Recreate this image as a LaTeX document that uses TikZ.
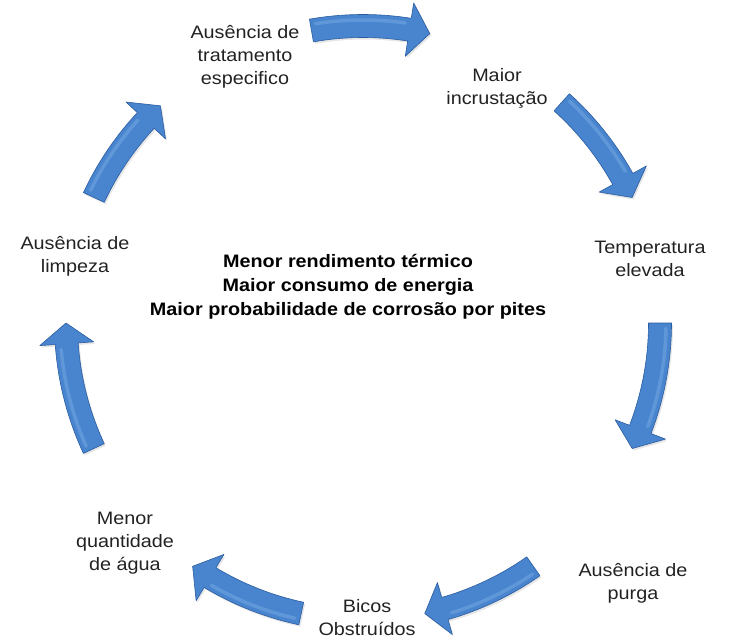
\documentclass[tikz,border=0pt]{standalone}
\usepackage{fontspec}
\setmainfont{Liberation Sans}[FakeStretch=1.1]
\usetikzlibrary{shadows}
\definecolor{arrowblue}{RGB}{72,133,206}
\definecolor{arrowedge}{RGB}{42,92,160}
\definecolor{arrowlight}{RGB}{140,185,235}
\definecolor{labelgray}{RGB}{34,34,34}
\tikzset{
  steplabel/.style={align=center, text=labelgray, font=\fontsize{18}{23}\selectfont, inner sep=2pt},
  centertext/.style={align=center, font=\bfseries\fontsize{18}{24}\selectfont},
  cyclearrow/.style={fill=arrowblue, draw=arrowedge, line width=0.6pt, line join=round,
    drop shadow={shadow xshift=1.5pt, shadow yshift=-2pt, opacity=0.2}},
  gloss/.style={draw=arrowlight, line width=3.5pt, opacity=0.35, line cap=round}
}
\begin{document}
\begin{tikzpicture}[x=1pt, y=1pt]
\useasboundingbox (0,0) rectangle (733,641);
% steps of the cycle
\node[steplabel] (tratamento) at (245,584) {Ausência de\\tratamento\\especifico};
\node[steplabel] (incrustacao) at (497,553) {Maior\\incrustação};
\node[steplabel] (temperatura) at (650,382) {Temperatura\\elevada};
\node[steplabel] (purga) at (633,58) {Ausência de\\purga};
\node[steplabel] (bicos) at (367,23) {Bicos\\Obstruídos};
\node[steplabel] (agua) at (125,98) {Menor\\quantidade\\de água};
\node[steplabel] (limpeza) at (75,385) {Ausência de\\limpeza};
\node[centertext] (efeitos) at (348,354)
{Menor rendimento térmico\\Maior consumo de energia\\Maior probabilidade de corrosão por pites};
% curved block arrows round the circle
\begin{scope}[shift={(363,318)}]
\foreach \a/\b in {100/77,48/25,0/-25,-55/-78,-102/-125,-155/-180,155/133}{
  \pgfmathsetmacro\h{\b+4}
  \draw[cyclearrow] (\a:308.5pt) arc[start angle=\a, end angle=\h, radius=308.5pt]
    -- (\h:324pt) -- (\b:297pt) -- (\h:270pt) -- (\h:285.5pt)
    arc[start angle=\h, end angle=\a, radius=285.5pt] -- cycle;
  \draw[gloss] (\a-1:303pt) arc[start angle=\a-1, end angle=\h+1, radius=303pt];
}
\end{scope}
\end{tikzpicture}
\end{document}
